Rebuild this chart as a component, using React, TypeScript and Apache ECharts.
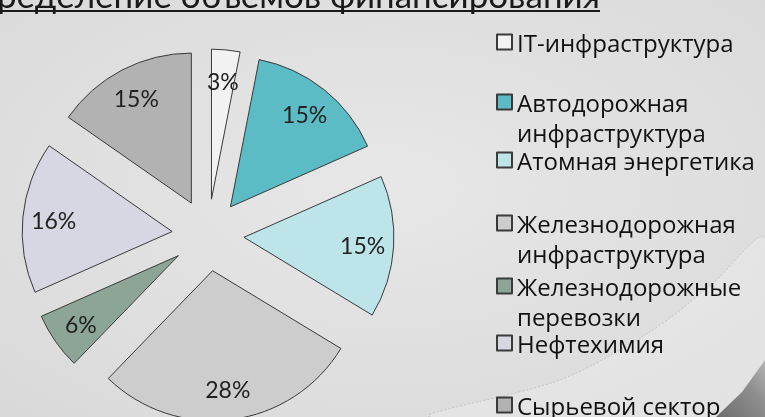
import React, { useEffect, useRef } from "react";
import * as echarts from "echarts";

const categories = [
  "IT-инфраструктура",
  "Автодорожная\nинфраструктура",
  "Атомная энергетика",
  "Железнодорожная\nинфраструктура",
  "Железнодорожные\nперевозки",
  "Нефтехимия",
  "Сырьевой сектор",
];
const shares = [3, 15, 15, 28, 6, 16, 15];
const sliceColors = ["#F2F2F2", "#5BBCC5", "#BDE5E9", "#CDCDCD", "#8CA597", "#D7D6E3", "#B2B2B2"];
const titleText = "Распределение объемов финансирования";

// legend row centres (px) for each category
const legendCenters = [43, 102, 161, 223, 286, 344, 406];
const LINE_H = 30;
const SINGLE_H = 20;
const FONT = "'Open Sans', Lato, 'Noto Sans', sans-serif";

export default function App() {
  const ref = useRef<HTMLDivElement>(null);
  useEffect(() => {
    if (!ref.current) return;
    const chart = echarts.init(ref.current, undefined, { renderer: "svg" });
    const data = categories.map((n, i) => ({
      name: n,
      value: shares[i],
      selected: true,
      itemStyle: { color: sliceColors[i] },
    }));
    const labelData = categories.map((n, i) => ({
      name: n,
      value: shares[i],
      selected: true,
    }));
    const legends = categories.map((n, i) => {
      const multi = n.includes("\n");
      const top = multi ? legendCenters[i] - LINE_H * 1.5 : legendCenters[i] - SINGLE_H / 2 - 3;
      return {
        data: [n],
        left: 496,
        top,
        padding: 0,
        itemWidth: 15,
        itemHeight: 15,
        icon: "rect",
        selectedMode: false,
        formatter: (name: string) => (name.includes("\n") ? "\n" + name : name),
        textStyle: {
          fontFamily: FONT,
          fontSize: 24,
          color: "#111111",
          lineHeight: multi ? LINE_H : SINGLE_H,
        },
      };
    });
    chart.setOption({
      animation: false,
      graphic: [
        {
          type: "rect",
          z: -10,
          silent: true,
          shape: { x: 0, y: 0, width: 765, height: 417 },
          style: {
            fill: {
              type: "radial",
              x: 0.5,
              y: 0.45,
              r: 0.8,
              colorStops: [
                { offset: 0, color: "#e7e7e7" },
                { offset: 1, color: "#d8d8d8" },
              ],
            },
          },
        },
        {
          type: "polygon",
          z: -9,
          silent: true,
          shape: {
            points: [
              [430, 417],
              [560, 380],
              [650, 332],
              [712, 284],
              [765, 238],
              [765, 417],
            ],
            smooth: 0.3,
          },
          style: { fill: "rgba(255,255,255,0.22)", stroke: "rgba(160,160,160,0.45)", lineWidth: 1, lineDash: [2, 2] },
        },
        {
          type: "polygon",
          z: -8,
          silent: true,
          shape: {
            points: [
              [716, 417],
              [742, 392],
              [765, 360],
              [765, 417],
            ],
          },
          style: {
            fill: {
              type: "linear",
              x: 0,
              y: 1,
              x2: 1,
              y2: 0,
              colorStops: [
                { offset: 0, color: "#6c6c6c" },
                { offset: 0.6, color: "#8e8e8e" },
                { offset: 1, color: "#b4b4b4" },
              ],
            },
          },
        },
        {
          type: "text",
          silent: true,
          x: 600,
          y: -6,
          style: {
            text: titleText,
            font: "35px Lato, sans-serif",
            fill: "#1a1a1a",
            align: "right",
            verticalAlign: "middle",
          },
        },
        {
          type: "line",
          silent: true,
          shape: { x1: 0, y1: 11, x2: 600, y2: 11 },
          style: { stroke: "#1a1a1a", lineWidth: 2 },
        },
      ],
      legend: legends,
      series: [
        {
          type: "pie",
          center: [208, 235],
          radius: 150,
          startAngle: 90,
          clockwise: true,
          selectedMode: "multiple",
          selectedOffset: 36,
          avoidLabelOverlap: false,
          label: { show: false },
          labelLine: { show: false },
          itemStyle: { borderColor: "#3a3a3a", borderWidth: 1 },
          select: { itemStyle: { borderColor: "#3a3a3a", borderWidth: 1 } },
          emphasis: { disabled: true },
          data,
        },
        {
          type: "pie",
          center: [208, 235],
          radius: [82, 150],
          startAngle: 90,
          clockwise: true,
          selectedMode: "multiple",
          selectedOffset: 36,
          silent: true,
          legendHoverLink: false,
          avoidLabelOverlap: false,
          itemStyle: { color: "rgba(0,0,0,0)", borderWidth: 0 },
          select: { itemStyle: { color: "rgba(0,0,0,0)", borderWidth: 0 } },
          emphasis: { disabled: true },
          label: {
            show: true,
            position: "inside",
            formatter: "{c}%",
            fontFamily: "Lato, sans-serif",
            fontSize: 23,
            color: "#222222",
          },
          labelLine: { show: false },
          data: labelData,
        },
      ],
    });
    return () => chart.dispose();
  }, []);
  return (
    <div
      ref={ref}
      style={{ position: "fixed", left: 0, top: 0, width: 765, height: 417 }}
    />
  );
}
